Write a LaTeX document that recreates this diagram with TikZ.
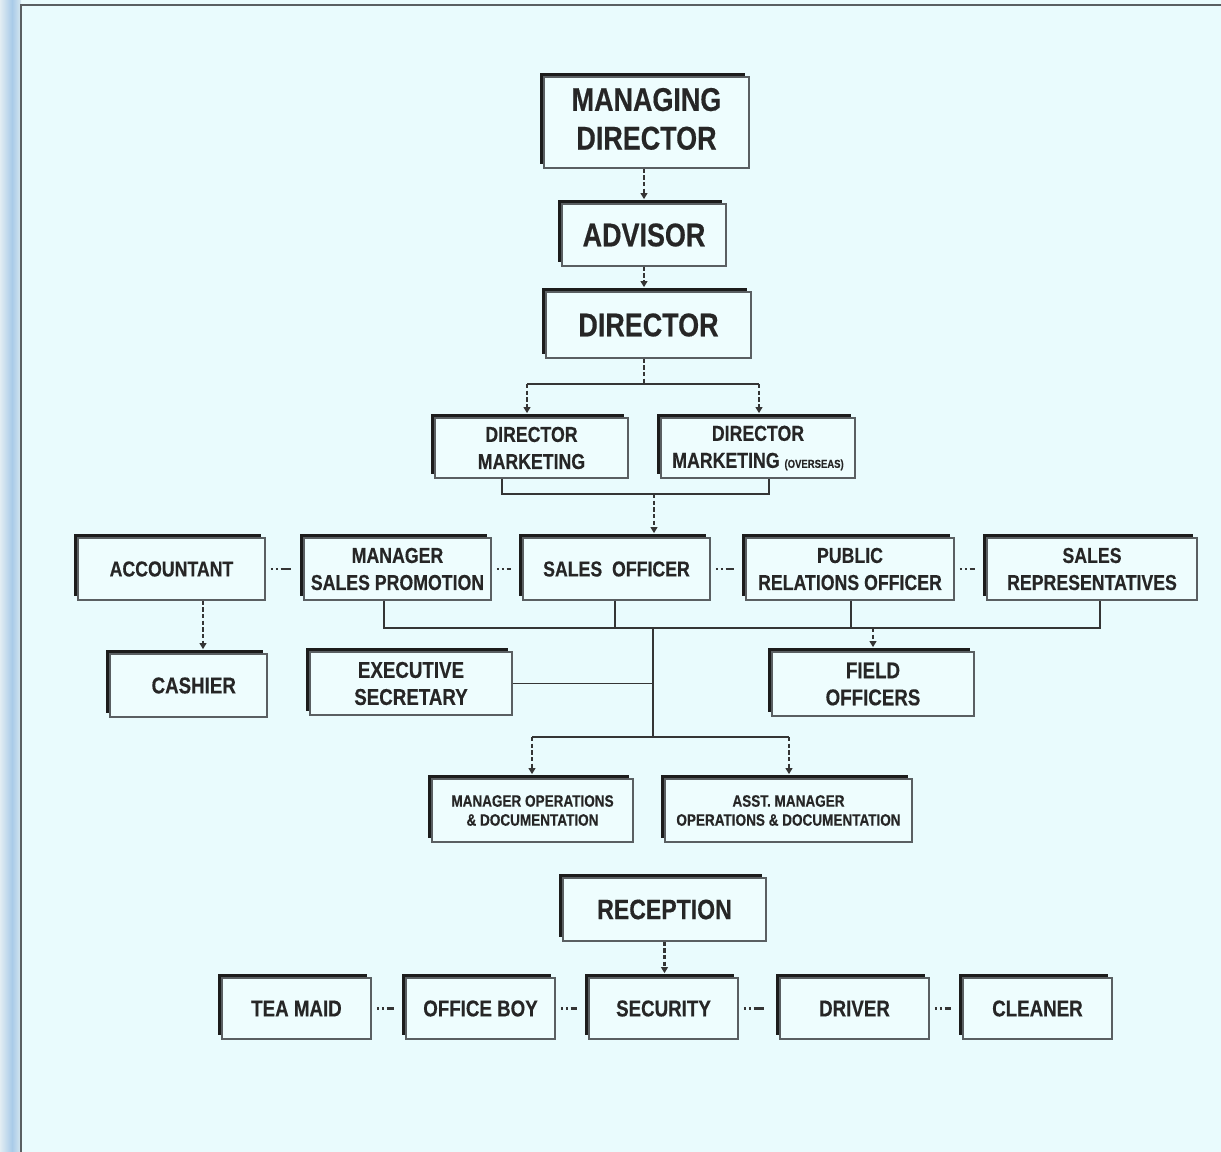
\documentclass[tikz,border=0pt]{standalone}
\usepackage{fontspec}
\setmainfont[FakeStretch=0.82, BoldFeatures={FakeBold=0.4}]{Liberation Sans}
\usetikzlibrary{shadows,arrows.meta}
\definecolor{bgc}{HTML}{E9FBFD}
\definecolor{boxc}{HTML}{EEFDFE}
\definecolor{shc}{HTML}{1C1C1C}
\definecolor{edgec}{HTML}{5A5F62}
\definecolor{txtc}{HTML}{262626}
\definecolor{linec}{HTML}{353535}
\definecolor{stripa}{HTML}{E2EDF3}
\definecolor{stripb}{HTML}{A9CBE8}
\definecolor{stripc}{HTML}{D6E7F0}
\tikzset{
  orgbox/.style={draw=edgec, line width=0.7pt, fill=boxc, text=txtc, align=center, inner sep=0pt,
    drop shadow={shadow xshift=-0.08cm, shadow yshift=0.08cm, fill=shc, opacity=1}},
  bx/.style 2 args={minimum width=#1*0.02cm, minimum height=#2*0.02cm},
  bigtxt/.style={font=\bfseries\fontsize{18.7}{22}\selectfont},
  rectxt/.style={font=\bfseries\fontsize{16}{19}\selectfont},
  midtxt/.style={font=\bfseries\fontsize{12.3}{15.4}\selectfont},
  bottxt/.style={font=\bfseries\fontsize{13}{15.4}\selectfont},
  smalltxt/.style={font=\bfseries\fontsize{9.4}{10.8}\selectfont},
  sline/.style={draw=linec, line width=1pt},
  vdash/.style={draw=linec, line width=1.4pt, dash pattern=on 2.5pt off 1.3pt},
  varr/.style={vdash, -{Triangle[length=3.4pt,width=3.8pt]}, shorten >=2.4pt},
  hd/.style={draw=linec, line width=1.5pt, dash pattern=on 1.4pt off 1.4pt on 1.4pt off 1.4pt on 6pt off 40pt, shorten <=3pt, shorten >=6.5pt}
}
\begin{document}
\begin{tikzpicture}[x=0.02cm, y=-0.02cm]
\useasboundingbox (0,0) rectangle (1221,1152);
\fill[bgc] (0,0) rectangle (1221,1152);
\shade[left color=stripa, right color=stripb] (0,0) rectangle (12,1152);
\shade[left color=stripb, right color=stripc] (12,0) rectangle (21,1152);
\draw[edgec, line width=0.8pt] (1221,5) -- (21,5) -- (21,1152);

% boxes
\node[orgbox, bx={205}{91}, bigtxt] (md) at (646.5,122.5) {\raisebox{2pt}{\begin{tabular}{@{}c@{}}MANAGING\\DIRECTOR\end{tabular}}};
\node[orgbox, bx={164}{62}, bigtxt] (adv) at (644,235) {ADVISOR};
\node[orgbox, bx={205}{66}, bigtxt] (dir) at (648.5,325) {DIRECTOR};
\node[orgbox, bx={193}{60}, midtxt] (dm) at (531.5,448) {DIRECTOR\\MARKETING};
\node[orgbox, bx={194}{60}, midtxt] (dmo) at (758,448) {DIRECTOR\\MARKETING {\fontsize{6.6}{8}\selectfont (OVERSEAS)}};
\node[orgbox, bx={187}{62}, midtxt] (acc) at (171.5,569) {ACCOUNTANT};
\node[orgbox, bx={187}{62}, midtxt] (msp) at (397.5,569) {MANAGER\\SALES PROMOTION};
\node[orgbox, bx={187}{62}, midtxt] (so) at (616.5,569) {SALES\ \ OFFICER};
\node[orgbox, bx={208}{62}, midtxt] (pro) at (850,569) {PUBLIC\\RELATIONS OFFICER};
\node[orgbox, bx={210}{62}, midtxt] (sr) at (1092,569) {SALES\\REPRESENTATIVES};
\node[orgbox, bx={157}{63}, bottxt] (cash) at (188.5,685.5) {\hspace*{6pt}CASHIER};
\node[orgbox, bx={202}{63}, bottxt] (es) at (411,683.5) {EXECUTIVE\\SECRETARY};
\node[orgbox, bx={202}{64}, bottxt] (fo) at (873,684) {FIELD\\OFFICERS};
\node[orgbox, bx={201}{63}, smalltxt] (mo) at (532.5,810.5) {MANAGER OPERATIONS\\\& DOCUMENTATION};
\node[orgbox, bx={247}{63}, smalltxt] (am) at (788.5,810.5) {ASST. MANAGER\\OPERATIONS \& DOCUMENTATION};
\node[orgbox, bx={203}{63}, rectxt] (rec) at (664.5,909.5) {RECEPTION};
\node[orgbox, bx={149}{61}, bottxt] (tea) at (296.5,1008.5) {TEA MAID};
\node[orgbox, bx={149}{61}, bottxt] (ob) at (480.5,1008.5) {OFFICE BOY};
\node[orgbox, bx={149}{61}, bottxt] (sec) at (663.5,1008.5) {SECURITY};
\node[orgbox, bx={149}{61}, bottxt] (drv) at (854.5,1008.5) {DRIVER};
\node[orgbox, bx={149}{61}, bottxt] (cln) at (1037.5,1008.5) {CLEANER};

% coordinates for junctions
\coordinate (j1) at (644,384);
\coordinate (j1l) at (527,384);
\coordinate (j1r) at (759,384);
\coordinate (j2) at (654,494);
\coordinate (j2l) at (502,494);
\coordinate (j2r) at (769,494);
\coordinate (acx) at (203,600);
\coordinate (j3) at (653,628);
\coordinate (j3a) at (384,628);
\coordinate (j3b) at (615,628);
\coordinate (j3c) at (851,628);
\coordinate (j3d) at (1100,628);
\coordinate (j3f) at (873,628);
\coordinate (j4) at (653,737);
\coordinate (j4l) at (532,737);
\coordinate (j4r) at (789,737);

% top chain
\draw[varr] (md.south -| adv.north) -- (adv.north);
\draw[varr] (adv.south) -- (adv.south |- dir.north);
\draw[vdash] (dir.south -| j1) -- (j1);
\draw[sline] (j1l) -- (j1r);
\draw[varr] (j1l) -- (j1l |- dm.north);
\draw[varr] (j1r) -- (j1r |- dmo.north);
\draw[sline] (dm.south -| j2l) -- (j2l) -- (j2r) -- (dmo.south -| j2r);
\draw[varr] (j2) -- (j2 |- so.north);

% row 3
\draw[hd] (acc.east) -- (msp.west);
\draw[hd] (msp.east) -- (so.west);
\draw[hd] (so.east) -- (pro.west);
\draw[hd] (pro.east) -- (sr.west);
\draw[varr] (acc.south -| acx) -- (cash.north -| acx);
\draw[sline] (msp.south -| j3a) -- (j3a) -- (j3d) -- (sr.south -| j3d);
\draw[sline] (so.south -| j3b) -- (j3b);
\draw[sline] (pro.south -| j3c) -- (j3c);
\draw[varr] (j3f) -- (fo.north);
\draw[sline] (j3) -- (j4);
\draw[sline] (es.east) -- (es.east -| j3);
\draw[sline] (j4l) -- (j4r);
\draw[varr] (j4l) -- (j4l |- mo.north);
\draw[varr] (j4r) -- (j4r |- am.north);

% reception
\draw[varr] (rec.south) -- (rec.south |- sec.north);
\draw[hd] (tea.east) -- (ob.west);
\draw[hd] (ob.east) -- (sec.west);
\draw[hd] (sec.east) -- (drv.west);
\draw[hd] (drv.east) -- (cln.west);
\end{tikzpicture}
\end{document}
